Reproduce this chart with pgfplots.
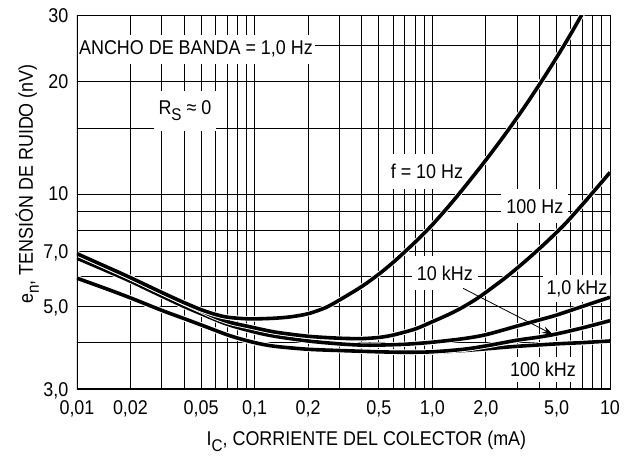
\documentclass[border=0pt]{standalone}
\usepackage{fontspec}
\setmainfont{Liberation Sans}[FakeStretch=0.9]
\usepackage{pgfplots}
\usepackage{pgfplotstable}
\pgfplotsset{compat=1.18}
\usetikzlibrary{arrows.meta}

% lowered index letter (e_n, I_C, R_S)
\newcommand{\sub}[1]{\raisebox{-0.3em}{\fontsize{17}{17}\selectfont #1}}

% noise voltage e_n (nV) versus collector current I_C (mA)
\pgfplotstableread{
I     en
0.01  6.92
0.015 6.35
0.02  5.97
0.03  5.45
0.04  5.12
0.05  4.90
0.06  4.76
0.07  4.68
0.085 4.64
0.1   4.63
0.13  4.65
0.16  4.69
0.2   4.78
0.25  4.96
0.3   5.20
0.4   5.65
0.5   6.10
0.6   6.55
0.7   7.00
0.85  7.64
1.0   8.27
1.2   9.12
1.4   9.95
1.7   11.16
2.0   12.32
2.4   13.82
2.84  15.43
3.4   17.45
4.2   20.32
4.9   22.81
5.6   25.31
6.3   27.84
7.0   30.42
7.4   31.9
}\fdiez

\pgfplotstableread{
I     en
0.01  6.92
0.015 6.35
0.02  5.97
0.03  5.45
0.04  5.11
0.05  4.87
0.06  4.68
0.073 4.53
0.094 4.41
0.13  4.27
0.2   4.16
0.3   4.11
0.4   4.10
0.5   4.13
0.6   4.19
0.8   4.35
1.0   4.55
1.25  4.77
1.5   4.99
1.85  5.31
2.5   5.90
3.0   6.33
3.5   6.74
4.2   7.29
5.0   7.89
5.7   8.40
7.0   9.37
8.5   10.43
10    11.42
}\fcien

\pgfplotstableread{
I     en
0.01  6.73
0.015 6.20
0.02  5.84
0.03  5.33
0.04  5.00
0.05  4.78
0.07  4.48
0.1   4.27
0.13  4.16
0.2   4.04
0.3   3.97
0.4   3.94
0.5   3.94
0.7   3.96
1.0   4.01
1.5   4.10
2.0   4.20
3.0   4.43
4.0   4.60
5.0   4.74
7.0   5.00
10    5.29
}\fmil

\pgfplotstableread{
I     en
0.01  5.95
0.015 5.55
0.02  5.27
0.03  4.88
0.04  4.64
0.05  4.46
0.073 4.17
0.1   4.00
0.13  3.91
0.2   3.84
0.3   3.81
0.5   3.78
0.7   3.77
1.0   3.78
1.5   3.84
2.0   3.92
3.0   4.06
4.0   4.14
5.0   4.22
7.0   4.38
10    4.58
}\fdiezmil

\pgfplotstableread{
I     en
0.01  5.95
0.015 5.55
0.02  5.27
0.03  4.88
0.04  4.64
0.05  4.46
0.073 4.17
0.1   4.00
0.13  3.91
0.2   3.84
0.3   3.81
0.5   3.78
0.7   3.77
1.0   3.77
1.5   3.81
2.0   3.85
3.0   3.91
5.0   3.97
7.0   4.00
10    4.04
}\fcienmil

\begin{document}
\begin{tikzpicture}[font=\fontsize{20}{23}\selectfont]
\path[use as bounding box] (-77bp,-66.7bp) rectangle (560bp,389.3bp);
\begin{axis}[
  at={(0,0)}, anchor=south west,
  scale only axis, width=533bp, height=373.6bp,
  xmode=log, ymode=log,
  xmin=0.01, xmax=10, ymin=3, ymax=30,
  xtick={0.01,0.02,0.05,0.1,0.2,0.5,1,2,5,10},
  xticklabels={{0,01},{0,02},{0,05},{0,1},{0,2},{0,5},{1,0},{2,0},{5,0},{10}},
  minor xtick={0.03,0.04,0.06,0.07,0.08,0.09,0.3,0.4,0.6,0.7,0.8,0.9,3,4,6,7,8,9},
  ytick={3,5,7,10,20,30},
  yticklabels={{3,0},{5,0},{7,0},{10},{20},{30}},
  minor ytick={4,6,8,9,15,25},
  grid=both,
  major grid style={black, line width=0.8bp},
  minor grid style={black, line width=0.8bp},
  major tick length=0pt, minor tick length=0pt,
  axis line style={line width=0.8bp},
  xticklabel style={anchor=base, inner sep=0pt, yshift=-25.7bp},
  yticklabel style={anchor=base east, inner sep=0pt, xshift=-8.5bp, yshift=-6.8bp},
  every axis x label/.style={at={(axis description cs:0.543,-0.150)}, anchor=base},
  every axis y label/.style={at={(axis description cs:-0.0826,0.5495)}, anchor=base, rotate=90},
  xlabel={I\sub{C}, CORRIENTE DEL COLECTOR (mA)},
  ylabel={e\sub{n}, TENSIÓN DE RUIDO (nV)},
  every axis plot/.append style={smooth},
  clip=true,
]
% curve labels on white boxes over the grid
\node[fill=white, anchor=base, inner xsep=2bp, inner ysep=6bp] at (axis cs:0.04674,23.55) {ANCHO DE BANDA = 1,0 Hz};
\node[fill=white, anchor=base, inner xsep=5bp, inner ysep=10bp] at (axis cs:0.04054,16.27) {R\sub{S} ≈ 0};
\node[fill=white, anchor=base, inner xsep=4bp, inner ysep=10bp] at (axis cs:0.9325,11.01) {f = 10 Hz};
\node[fill=white, anchor=base, inner xsep=5bp, inner ysep=10bp] at (axis cs:3.779,8.877) {100 Hz};
\node[fill=white, anchor=base, inner xsep=5bp, inner ysep=10bp] at (axis cs:1.177,5.884) {10 kHz};
\node[fill=white, anchor=base, inner xsep=4bp, inner ysep=5bp] at (axis cs:6.513,5.397) {1,0 kHz};
\node[fill=white, anchor=base, inner xsep=4bp, inner ysep=5bp] at (axis cs:4.193,3.242) {100 kHz};

% each curve: a white casing first, then the black line
\addplot[white, line width=5.4bp] table {\fcienmil};
\addplot[black, line width=3.6bp] table {\fcienmil};
\addplot[white, line width=5.4bp] table {\fdiezmil};
\addplot[black, line width=3.6bp] table {\fdiezmil};
\addplot[white, line width=5.4bp] table {\fmil};
\addplot[black, line width=3.6bp] table {\fmil};
\addplot[white, line width=5.4bp] table {\fcien};
\addplot[black, line width=3.6bp] table {\fcien};
\addplot[white, line width=5.4bp] table {\fdiez};
\addplot[black, line width=3.6bp] table {\fdiez};

% thicker left and bottom frame
\draw[line width=2.6bp, line cap=rect] (rel axis cs:0,1) -- (rel axis cs:0,0) -- (rel axis cs:1,0);

\draw[line width=0.8bp, -{Stealth[length=11bp,width=7bp]}] (axis cs:1.49,5.59) -- (axis cs:4.79,4.2);
\end{axis}
\end{tikzpicture}
\end{document}
